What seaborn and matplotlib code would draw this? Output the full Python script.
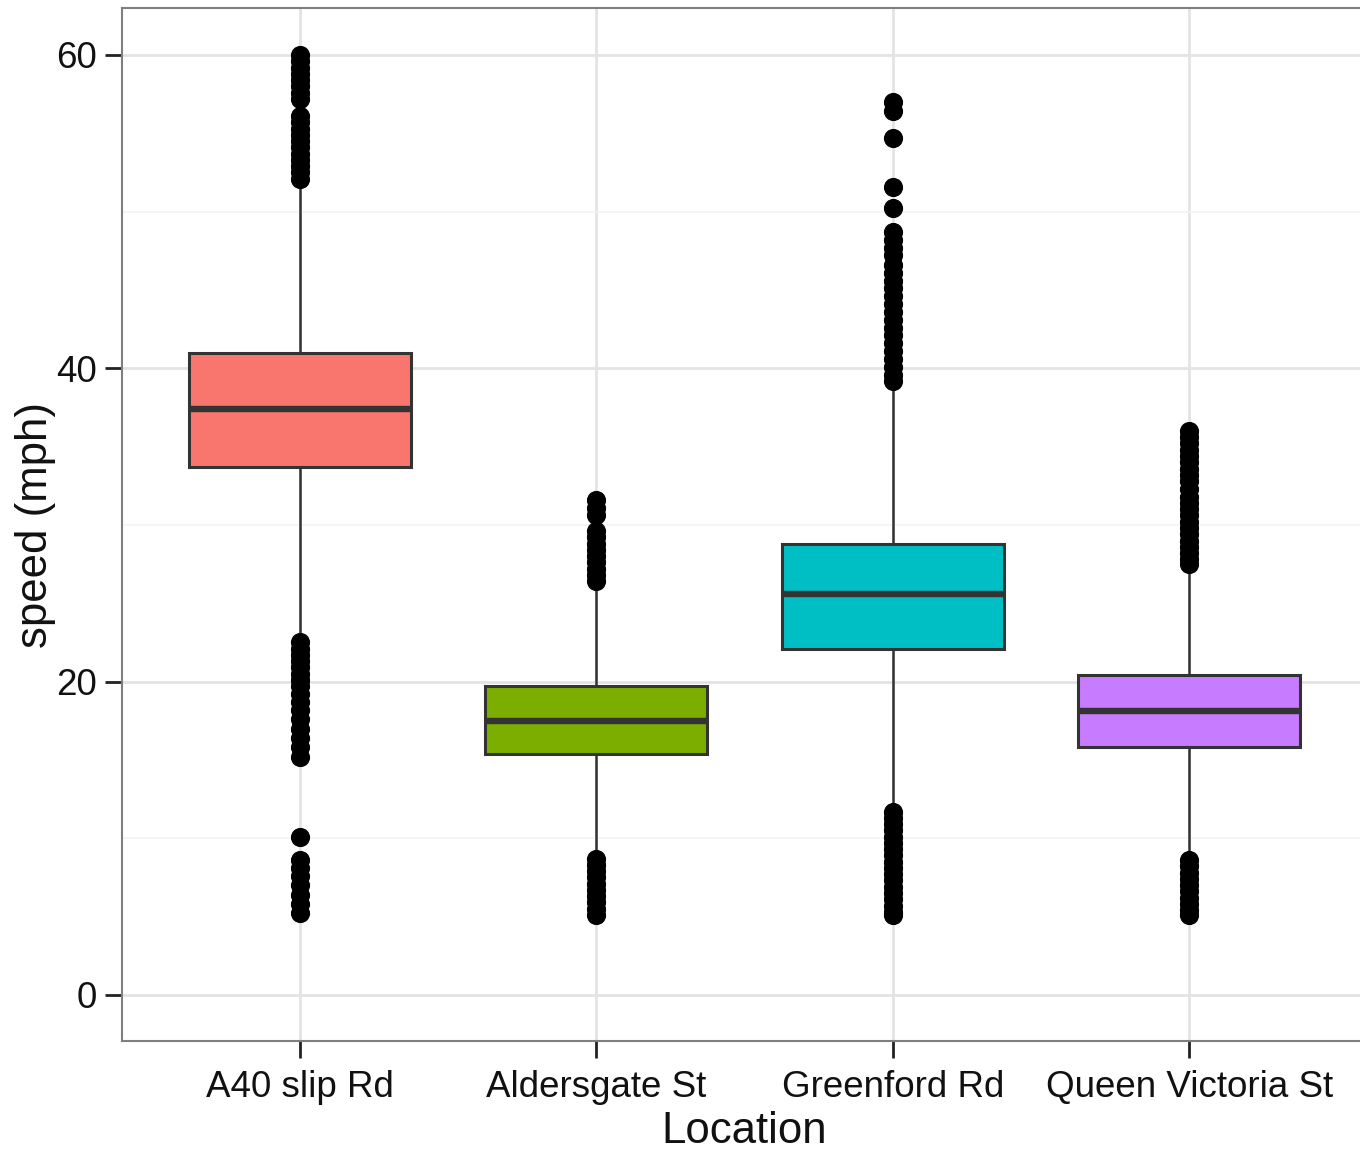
import numpy as np
import pandas as pd
import matplotlib
matplotlib.use("Agg")
import matplotlib.pyplot as plt
from matplotlib.ticker import MultipleLocator
import seaborn as sns

# ---------------- data ----------------
locations = ["A40 slip Rd", "Aldersgate St", "Greenford Rd", "Queen Victoria St"]
colors = ["#F8766D", "#7CAE00", "#00BFC4", "#C77CFF"]

q1 = [33.7, 15.4, 22.1, 15.8]
median = [37.4, 17.45, 25.6, 18.1]
q3 = [41.0, 19.7, 28.8, 20.4]
whisker_low = [22.9, 9.0, 12.1, 9.0]
whisker_high = [51.8, 26.0, 38.8, 27.2]

outliers_a40 = [60.0, 59.6, 59.2, 58.8, 58.4, 58.0, 57.6, 57.2, 56.1, 55.7,
                55.3, 54.9, 54.5, 54.1, 53.7, 53.3, 52.9, 52.5, 52.1,
                22.5, 22.1, 21.7, 21.3, 20.9, 20.5, 20.1, 19.7, 19.2, 18.7,
                18.2, 17.6, 17.0, 16.4, 15.8, 15.2, 10.1, 8.6, 8.1, 7.6,
                7.0, 6.4, 5.8, 5.2]
outliers_aldersgate = [31.6, 31.1, 30.6, 29.6, 29.2, 28.8, 28.4, 28.0, 27.6,
                       27.2, 26.8, 26.4,
                       8.7, 8.3, 7.9, 7.5, 7.1, 6.7, 6.3, 5.9, 5.5, 5.1]
outliers_greenford = [57.0, 56.4, 54.7, 51.6, 50.2, 48.7, 48.2, 47.7, 47.2,
                      46.6, 46.1, 45.6, 45.1, 44.6, 44.1, 43.6, 43.1, 42.6,
                      42.1, 41.6, 41.1, 40.6, 40.1, 39.6, 39.2,
                      11.7, 11.3, 10.9, 10.5, 10.1, 9.7, 9.3, 8.9, 8.5, 8.1,
                      7.7, 7.3, 6.9, 6.5, 6.1, 5.7, 5.3, 5.1]
outliers_queen_victoria = [36.0, 35.6, 35.2, 34.8, 34.4, 34.0, 33.6, 33.2,
                           32.8, 32.3, 31.8, 31.4, 31.0, 30.6, 30.2, 29.8,
                           29.4, 29.0, 28.6, 28.2, 27.8, 27.5,
                           8.6, 8.2, 7.8, 7.4, 7.0, 6.6, 6.2, 5.8, 5.4, 5.1]
outliers = [outliers_a40, outliers_aldersgate, outliers_greenford,
            outliers_queen_victoria]

y_ticks = [0, 20, 40, 60]

# Build samples whose box statistics equal the values read above
n_block = 300
rows = []
for i, loc in enumerate(locations):
    vals = ([whisker_low[i], whisker_high[i]]
            + [q1[i]] * n_block + [median[i]] * n_block + [q3[i]] * n_block
            + list(outliers[i]))
    rows += [(loc, v) for v in vals]
df = pd.DataFrame(rows, columns=["Location", "speed"])

# ---------------- figure ----------------
sns.set_theme(style="white")
plt.rcParams["font.family"] = ["Liberation Sans", "DejaVu Sans"]

W, H = 1360, 1153
fig = plt.figure(figsize=(W / 100, H / 100), dpi=100)
left, right, top, bottom = 122, 1367, 8, 1041
ax = fig.add_axes([left / W, 1 - bottom / H, (right - left) / W, (bottom - top) / H])

line_c = "#333333"
sns.boxplot(
    data=df, x="Location", y="speed", hue="Location", order=locations,
    hue_order=locations, palette=colors, saturation=1, legend=False,
    dodge=False, width=0.75, whis=1.5, linecolor=line_c, linewidth=2.2,
    showcaps=False, fliersize=12.8,
    flierprops=dict(marker="o", markerfacecolor="black",
                    markeredgecolor="black"),
    medianprops=dict(linewidth=4.6, color=line_c),
    whiskerprops=dict(linewidth=1.8, color=line_c),
    boxprops=dict(edgecolor=line_c, linewidth=2.2),
    ax=ax,
)

ax.set_xlim(-0.6, 3.6)
ax.set_ylim(-2.95, 63.0)
ax.set_yticks(y_ticks)
ax.yaxis.set_minor_locator(MultipleLocator(10))
ax.set_axisbelow(True)
ax.grid(True, which="major", color="#E3E3E3", linewidth=2.0)
ax.grid(True, which="minor", axis="y", color="#F3F3F3", linewidth=1.2)
ax.tick_params(axis="y", which="minor", length=0)
ax.tick_params(axis="both", which="major", direction="out", length=12,
               width=2.0, color="#222222", labelsize=26.5, labelcolor="#111111",
               left=True, bottom=True)
ax.tick_params(axis="x", which="major", pad=9)
ax.tick_params(axis="y", which="major", pad=6)
for s in ax.spines.values():
    s.set_color("#7F7F7F")
    s.set_linewidth(1.5)

ax.set_xlabel("Location", fontsize=31.5, color="#111111", labelpad=4)
ax.set_ylabel("speed (mph)", fontsize=31.5, color="#111111", labelpad=0)

fig.savefig("out.png", dpi=100)
